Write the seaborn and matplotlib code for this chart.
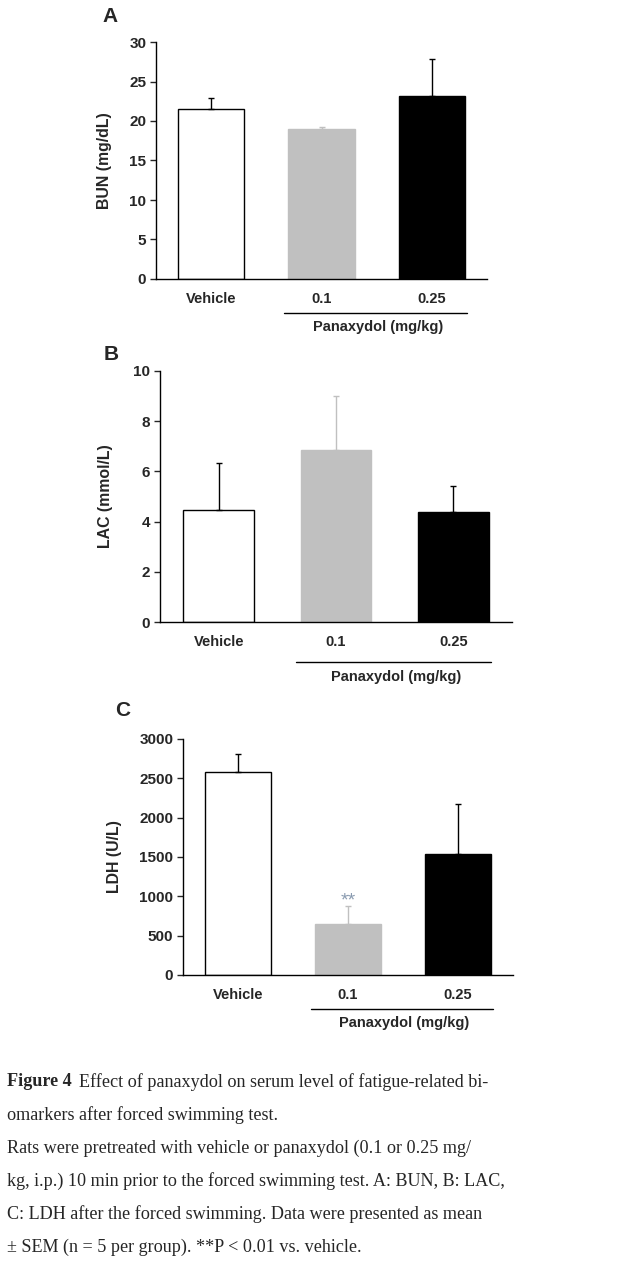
import numpy as np
import pandas as pd
import matplotlib
matplotlib.use("Agg")
import matplotlib.pyplot as plt
import matplotlib.transforms as mtransforms
import seaborn as sns

sns.set_theme(style="ticks")
plt.rcParams["font.family"] = ["Liberation Sans", "DejaVu Sans"]
plt.rcParams["font.weight"] = "bold"

# data (mean and upper SEM)
groups = ["Vehicle", "0.1", "0.25"]
bun_mean = [21.5, 19.0, 23.2]
bun_sem = [1.45, 0.25, 4.6]
lac_mean = [4.45, 6.85, 4.37]
lac_sem = [1.9, 2.17, 1.06]
ldh_mean = [2580, 650, 1540]
ldh_sem = [230, 225, 635]

bar_colors = ["white", "#c0c0c0", "black"]
edge_colors = ["black", "#c0c0c0", "black"]

panels = [
    ("A", bun_mean, bun_sem, "BUN (mg/dL)", (0, 30), 5,
     [156 / 629, 1 - 279 / 1262, 331 / 629, 237 / 1262], -0.133, -0.1435, -0.203, (110, 17)),
    ("B", lac_mean, lac_sem, "LAC (mmol/L)", (0, 10), 2,
     [160 / 629, 1 - 622 / 1262, 352 / 629, 251 / 1262], -0.134, -0.159, -0.219, (111, 355)),
    ("C", ldh_mean, ldh_sem, "LDH (U/L)", (0, 3000), 500,
     [183 / 629, 1 - 975 / 1262, 330 / 629, 236 / 1262], -0.185, -0.144, -0.203, (123, 710)),
]

fig = plt.figure(figsize=(6.29, 12.62), dpi=100)

for letter, means, sems, ylabel, ylim, step, pos, ylab_x, line_y, lab_y, let_xy in panels:
    ax = fig.add_axes(pos)
    df = pd.DataFrame({"group": groups, "value": means})
    sns.barplot(data=df, x="group", y="value", hue="group", palette=bar_colors,
                legend=False, width=0.6, errorbar=None, ax=ax, saturation=1)
    for patch, ec in zip(ax.patches, edge_colors):
        patch.set_edgecolor(ec)
        patch.set_linewidth(1.0)
    for i in range(3):
        ax.errorbar(i, means[i], yerr=[[0], [sems[i]]], fmt="none",
                    ecolor=edge_colors[i], elinewidth=1.0, capsize=2.5,
                    capthick=1.0, zorder=1)
    ax.set_xlim(-0.5, 2.5)
    ax.set_ylim(*ylim)
    ax.set_yticks(np.arange(ylim[0], ylim[1] + step / 2, step))
    ax.set_xlabel("")
    ax.set_ylabel(ylabel, fontsize=11.4, fontweight="bold")
    ax.yaxis.set_label_coords(ylab_x, 0.5)
    ax.tick_params(axis="y", direction="out", length=4, width=1, labelsize=11, pad=3)
    ax.tick_params(axis="x", length=0, labelsize=10.5, pad=9.5)
    for lab in ax.get_xticklabels() + ax.get_yticklabels():
        lab.set_fontweight("bold")
    sns.despine(ax=ax)
    for sp in ["left", "bottom"]:
        ax.spines[sp].set_linewidth(1.0)
        ax.spines[sp].set_color("black")

    trans = mtransforms.blended_transform_factory(ax.transData, ax.transAxes)
    ax.plot([0.66, 2.32], [line_y, line_y], color="black", lw=1.0,
            transform=trans, clip_on=False)
    ax.text(1.51, lab_y, "Panaxydol (mg/kg)", transform=trans, ha="center",
            va="center", fontsize=10.5, fontweight="bold")

    fig.text(let_xy[0] / 629, 1 - let_xy[1] / 1262, letter, ha="center",
             va="center", fontsize=15, fontweight="bold")

    if letter == "C":
        ax.text(1, 945, "**", ha="center", va="center",
                fontsize=14, color="#8a9bb0", fontweight="normal")

# caption
serif = ["Liberation Serif", "DejaVu Serif"]
cap_size = 13.1
renderer = fig.canvas.get_renderer()
t0 = fig.text(7 / 629, 1 - 1082 / 1262, "Figure 4", family=serif, fontsize=cap_size,
              fontweight="bold", va="center", ha="left")
bb = t0.get_window_extent(renderer=renderer)
fig.text((bb.x1 + 7) / 629, 1 - 1082 / 1262,
         "Effect of panaxydol on serum level of fatigue-related bi-",
         family=serif, fontsize=cap_size, fontweight="normal", va="center", ha="left")

caption_lines = [
    "omarkers after forced swimming test.",
    "Rats were pretreated with vehicle or panaxydol (0.1 or 0.25 mg/",
    "kg, i.p.) 10 min prior to the forced swimming test. A: BUN, B: LAC,",
    "C: LDH after the forced swimming. Data were presented as mean",
    "\u00b1 SEM (n = 5 per group). **P < 0.01 vs. vehicle.",
]
line_ys = [1115, 1148, 1181, 1214, 1247]
for txt, y in zip(caption_lines, line_ys):
    fig.text(7 / 629, 1 - y / 1262, txt, family=serif, fontsize=cap_size,
             fontweight="normal", va="center", ha="left")

fig.savefig("out.png", dpi=100)
